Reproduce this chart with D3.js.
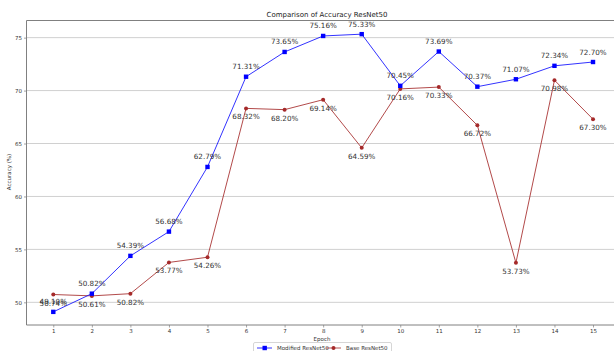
<!DOCTYPE html>
<html><head><meta charset="utf-8">
<script src="https://cdn.jsdelivr.net/npm/d3@7"></script>
<style>body{margin:0;background:#fff;}svg{display:block;font-family:"DejaVu Sans",sans-serif;}</style>
</head><body>
<svg id="c" width="614" height="351"></svg>
<script>
const epochs = [1,2,3,4,5,6,7,8,9,10,11,12,13,14,15];
const modified = [49.10,50.82,54.39,56.68,62.79,71.31,73.65,75.16,75.33,70.45,73.69,70.37,71.07,72.34,72.70];
const base = [50.74,50.61,50.82,53.77,54.26,68.32,68.20,69.14,64.59,70.16,70.33,66.72,53.73,70.98,67.30];
const yTicks = [50,55,60,65,70,75];
const seriesNames = ["Modified ResNet50","Base ResNet50"];
const title = "Comparison of Accuracy ResNet50";

const svg = d3.select("#c");
const m = {left:26.5, top:20.5, right:620, bottom:325};
const x = d3.scaleLinear().domain([0.305,15.7]).range([m.left,m.right]);
const y = d3.scaleLinear().domain([47.86,76.62]).range([m.bottom,m.top]);

// grid
svg.append("g").selectAll("line").data(yTicks).join("line")
  .attr("x1",m.left).attr("x2",m.right)
  .attr("y1",d=>y(d)).attr("y2",d=>y(d))
  .attr("stroke","#d0d0d0").attr("stroke-width",1);

// axes
const xa = svg.append("g").attr("transform",`translate(0,${m.bottom})`)
  .call(d3.axisBottom(x).tickValues(epochs).tickSize(2.5).tickPadding(2).tickFormat(d3.format("d")));
const ya = svg.append("g").attr("transform",`translate(${m.left},0)`)
  .call(d3.axisLeft(y).tickValues(yTicks).tickSize(2.5).tickPadding(2).tickFormat(d3.format("d")));
[xa,ya].forEach(a=>{
  a.select(".domain").remove();
  a.selectAll("text").attr("font-size",5.5).attr("fill","#333").attr("font-family","DejaVu Sans");
  a.selectAll("line").attr("stroke","#666").attr("stroke-width",0.6);
});
// spines
svg.append("line").attr("x1",m.left).attr("x2",m.left).attr("y1",m.top).attr("y2",m.bottom).attr("stroke","#808080").attr("stroke-width",1);
svg.append("line").attr("x1",m.left).attr("x2",m.right).attr("y1",m.bottom).attr("y2",m.bottom).attr("stroke","#808080").attr("stroke-width",1);
svg.append("line").attr("x1",m.left).attr("x2",m.right).attr("y1",m.top).attr("y2",m.top).attr("stroke","#808080").attr("stroke-width",1);

const line = d3.line().x((d,i)=>x(epochs[i])).y(d=>y(d));
const blue = "#0000ff", red = "#a52a2a";

svg.append("path").datum(base).attr("d",line).attr("fill","none").attr("stroke",red).attr("stroke-opacity",0.85).attr("stroke-width",1);
svg.append("path").datum(modified).attr("d",line).attr("fill","none").attr("stroke",blue).attr("stroke-opacity",0.8).attr("stroke-width",1);

svg.append("g").selectAll("circle").data(base).join("circle")
  .attr("cx",(d,i)=>x(epochs[i])).attr("cy",d=>y(d)).attr("r",2).attr("fill",red);
svg.append("g").selectAll("rect").data(modified).join("rect")
  .attr("x",(d,i)=>x(epochs[i])-2.2).attr("y",d=>y(d)-2.2).attr("width",4.4).attr("height",4.4).attr("fill",blue);

// labels
svg.append("g").selectAll("text").data(modified).join("text")
  .attr("x",(d,i)=>x(epochs[i])).attr("y",d=>y(d)-7.5)
  .attr("text-anchor","middle").attr("font-size",7.2).attr("fill","#333")
  .text(d=>d.toFixed(2)+"%");
svg.append("g").selectAll("text").data(base).join("text")
  .attr("x",(d,i)=>x(epochs[i])).attr("y",d=>y(d)+11)
  .attr("text-anchor","middle").attr("font-size",7.2).attr("fill","#333")
  .text(d=>d.toFixed(2)+"%");

// title and axis labels
svg.append("text").attr("x",327).attr("y",17).attr("text-anchor","middle").attr("font-size",7).attr("fill","#222").text(title);
svg.append("text").attr("x",322).attr("y",341).attr("text-anchor","middle").attr("font-size",5.5).attr("fill","#333").text("Epoch");
svg.append("text").attr("transform","translate(11,172) rotate(-90)").attr("text-anchor","middle").attr("font-size",5.5).attr("fill","#333").text("Accuracy (%)");

// legend
const lg = svg.append("g");
lg.append("rect").attr("x",253.5).attr("y",342.5).attr("width",138).attr("height",12).attr("fill","#fff").attr("stroke","#ccc").attr("stroke-width",0.8).attr("rx",1.5);
const items = [{name:seriesNames[0],c:blue,shape:"sq",x:257},{name:seriesNames[1],c:red,shape:"ci",x:326}];
items.forEach(it=>{
  lg.append("line").attr("x1",it.x).attr("x2",it.x+15).attr("y1",348).attr("y2",348).attr("stroke",it.c).attr("stroke-width",1).attr("stroke-opacity",0.8);
  if(it.shape==="sq") lg.append("rect").attr("x",it.x+5.5).attr("y",345.8).attr("width",4.4).attr("height",4.4).attr("fill",it.c);
  else lg.append("circle").attr("cx",it.x+7.5).attr("cy",348).attr("r",2).attr("fill",it.c);
  lg.append("text").attr("x",it.x+20).attr("y",350).attr("font-size",5.5).attr("fill","#333").text(it.name);
});
</script>
</body></html>
